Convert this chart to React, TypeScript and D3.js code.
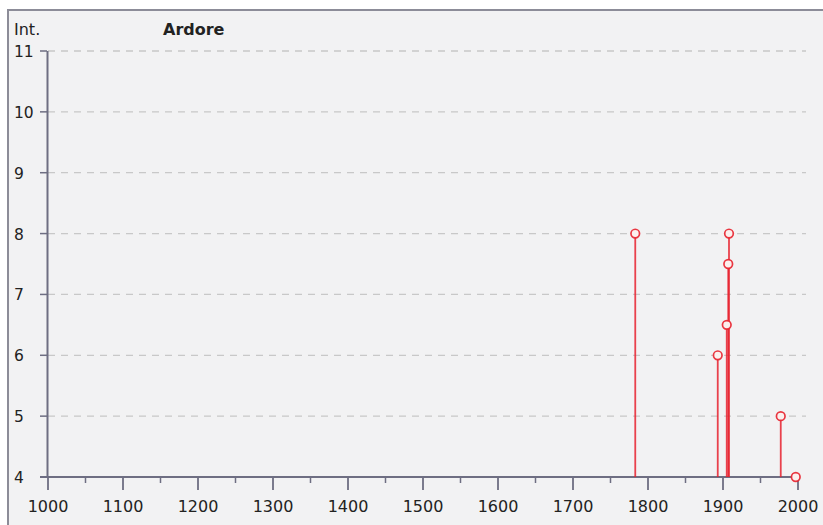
import React from "react";
import * as d3 from "d3";

const years = [1783, 1893, 1905, 1907, 1908, 1977, 1997];
const intensities = [8, 6, 6.5, 7.5, 8, 5, 4];
const xTicks = [1000, 1100, 1200, 1300, 1400, 1500, 1600, 1700, 1800, 1900, 2000];
const xMinorTicks = [1050, 1150, 1250, 1350, 1450, 1550, 1650, 1750, 1850, 1950];
const yTicks = [4, 5, 6, 7, 8, 9, 10, 11];
const yLabel = "Int.";
const title = "Ardore";

export default function App() {
  const W = 823, H = 525;
  const x = d3.scaleLinear().domain([1000, 2000]).range([48, 798]);
  const y = d3.scaleLinear().domain([4, 11]).range([477, 51]);
  const font = "'DejaVu Sans', Verdana, sans-serif";
  const axisColor = "#6e6e82";
  const red = "#e8222e";
  return (
    <svg width={W} height={H} style={{ position: "absolute", left: 0, top: 0 }}>
      <rect x={0} y={0} width={W} height={H} fill="#ffffff" />
      <rect x={8} y={10} width={W + 10} height={H} fill="#f2f2f3" stroke="#8c8c98" strokeWidth={2} />
      {yTicks.filter(t => t > 4).map(t => (
        <line key={"g" + t} x1={48} x2={806} y1={y(t)} y2={y(t)} stroke="#c8c8c8" strokeWidth={1.3} strokeDasharray="7 6" />
      ))}
      <line x1={47.5} x2={47.5} y1={51} y2={478} stroke={axisColor} strokeWidth={2} />
      <line x1={40} x2={799} y1={477} y2={477} stroke={axisColor} strokeWidth={2} />
      {yTicks.map(t => (
        <g key={"y" + t}>
          <line x1={40} x2={47} y1={y(t)} y2={y(t)} stroke={axisColor} strokeWidth={1.5} />
          <text x={14} y={y(t) + 6} fontFamily={font} fontSize={15.5} fill="#222">{t}</text>
        </g>
      ))}
      {xTicks.map(t => (
        <g key={"x" + t}>
          <line x1={x(t)} x2={x(t)} y1={477} y2={490} stroke={axisColor} strokeWidth={1.8} />
          <text x={x(t)} y={512} textAnchor="middle" fontFamily={font} fontSize={16} fill="#222">{t}</text>
        </g>
      ))}
      {xMinorTicks.map(t => (
        <line key={"m" + t} x1={x(t)} x2={x(t)} y1={477} y2={483} stroke={axisColor} strokeWidth={1.5} />
      ))}
      <text x={14} y={35} fontFamily={font} fontSize={16} fill="#222">{yLabel}</text>
      <text x={163} y={35} fontFamily={font} fontSize={16} fontWeight="bold" fill="#222">{title}</text>
      {years.map((yr, i) => (
        <line key={"s" + i} x1={x(yr)} x2={x(yr)} y1={477} y2={y(intensities[i]) + 4} stroke={red} strokeWidth={1.8} strokeOpacity={0.85} />
      ))}
      {years.map((yr, i) => (
        <circle key={"c" + i} cx={x(yr)} cy={y(intensities[i])} r={4.3} fill="#fbf0ee" stroke={red} strokeWidth={1.7} strokeOpacity={0.9} />
      ))}
    </svg>
  );
}
